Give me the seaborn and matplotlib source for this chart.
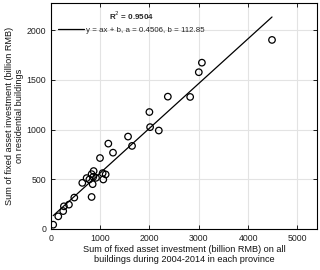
import numpy as np
import pandas as pd
import matplotlib
matplotlib.use("Agg")
import matplotlib.pyplot as plt
import seaborn as sns

# Data (billion RMB)
total_investment = [47, 150, 250, 264, 366, 475, 637, 725, 780, 826, 867, 860, 915, 847, 826,
                    996, 1050, 1111, 1063, 1165, 1260, 1565, 1646,
                    2012, 1998, 2189, 2372, 2825, 3000, 3063, 4485]
residential_investment = [43, 127, 180, 228, 245, 316, 464, 512, 498, 552, 583, 525, 515, 451, 322,
                          714, 562, 549, 498, 859, 768, 930, 836,
                          1025, 1177, 991, 1332, 1329, 1578, 1674, 1903]
slope_a = 0.4506
intercept_b = 112.85
r_squared = 0.9504
x_ticks = [0, 1000, 2000, 3000, 4000, 5000]
y_ticks = [0, 500, 1000, 1500, 2000]

df = pd.DataFrame({"x": total_investment, "y": residential_investment})
xs = np.array([min(total_investment), max(total_investment)])
fit = pd.DataFrame({"x": xs, "y": slope_a * xs + intercept_b})

sns.set_theme(style="whitegrid")
plt.rcParams["font.family"] = ["Liberation Sans", "DejaVu Sans"]

fig = plt.figure(figsize=(3.2, 2.7), dpi=100)
ax = fig.add_axes([0.159, 0.152, 0.832, 0.837])

sns.lineplot(data=fit, x="x", y="y", ax=ax, color="black", linewidth=0.9,
             label="y = ax + b, a = %.4f, b = %.2f" % (slope_a, intercept_b))
sns.scatterplot(data=df, x="x", y="y", ax=ax, marker="o", s=22,
                facecolor="none", edgecolor="black", linewidth=0.9, legend=False)

ax.set_xlim(0, 5400)
ax.set_ylim(0, 2275)
ax.set_xticks(x_ticks)
ax.set_yticks(y_ticks)
ax.grid(True, color="#e3e3e3", linewidth=0.8)
for s in ax.spines.values():
    s.set_color("black")
    s.set_linewidth(0.8)
ax.tick_params(direction="in", length=3, width=0.6, colors="black", labelsize=6.3,
               top=True, right=True, bottom=True, left=True, pad=3.5)
ax.tick_params(axis="both", labelcolor="#222222")

ax.set_xlabel("Sum of fixed asset investment (billion RMB) on all\nbuildings during 2004-2014 in each province",
              fontsize=6.6, linespacing=1.25, color="#111111", va="center")
ax.set_ylabel("Sum of fixed asset investment (billion RMB)\non residential buildings",
              fontsize=6.6, linespacing=1.25, color="#111111", va="center")
ax.xaxis.set_label_coords(0.5, -0.113)
ax.yaxis.set_label_coords(-0.137, 0.5)

leg = ax.legend(loc="upper left", bbox_to_anchor=(0.01, 0.99), frameon=False, fontsize=5.7,
                title="R$^2$ = %.4f" % r_squared, handlelength=3.2, handletextpad=0.3,
                borderaxespad=0.2)
leg.get_title().set_fontsize(5.8)
leg.get_title().set_fontweight("bold")

fig.savefig("out.png", dpi=100)
